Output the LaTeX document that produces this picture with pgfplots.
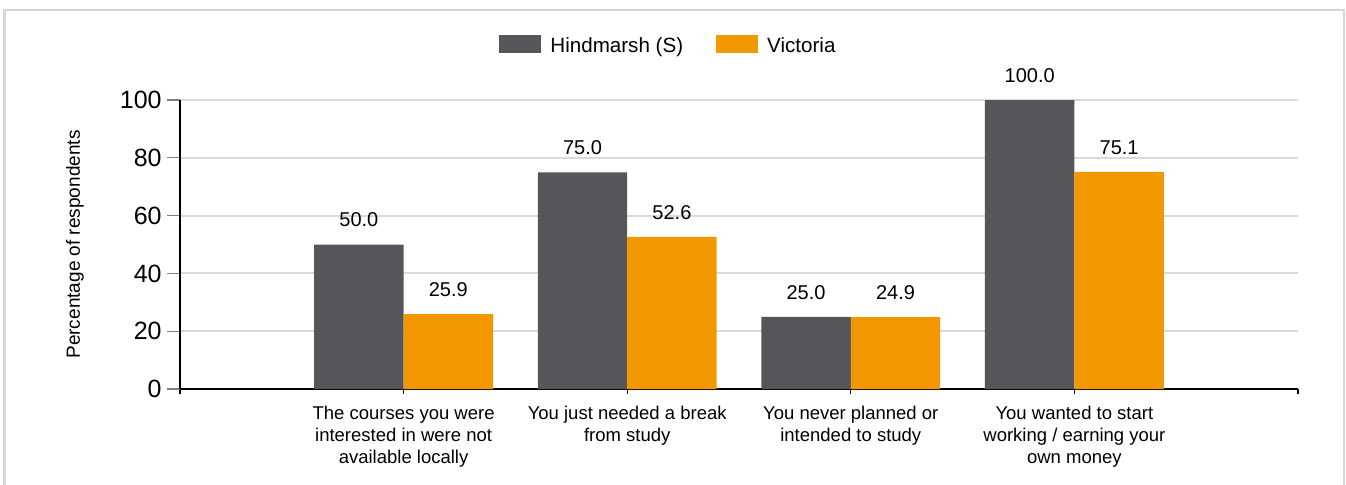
\documentclass[border=0pt]{standalone}
\usepackage{pgfplots}
\pgfplotsset{compat=1.18}
\usepackage{fontspec}
\setmainfont{Liberation Sans}
\definecolor{darkbar}{RGB}{84,86,90}
\definecolor{orangebar}{RGB}{243,151,0}
\definecolor{gridgray}{RGB}{217,217,217}
\definecolor{framegray}{RGB}{214,214,214}
\begin{document}
\begin{tikzpicture}
\useasboundingbox (0,0) rectangle (673pt,-242pt);
\draw[framegray, line width=1.3pt] (2.25pt,-243pt) -- (2.25pt,-5pt) -- (672pt,-5pt) -- (672pt,-243pt);
\begin{axis}[
  at={(90pt,-194.5pt)}, anchor=south west,
  scale only axis, width=559pt, height=144.5pt,
  xmin=0, xmax=5, ymin=0, ymax=100,
  axis lines*=left,
  x axis line style={line width=1.2pt, black},
  y axis line style={line width=0.9pt, black},
  ybar=0pt, bar width=0.4,
  xtick={0,1,2,3,4,5},
  xticklabels={,{The courses you were\\interested in were not\\available locally},{You just needed a break\\from study},{You never planned or\\intended to study},{You wanted to start\\working / earning your\\own money},},
  xticklabel style={font=\fontsize{9.25}{11}\selectfont, align=center, inner sep=0pt, yshift=-2pt},
  ytick={0,20,40,60,80,100},
  yticklabel style={font=\fontsize{12.5}{14}\selectfont, inner sep=0pt, xshift=-2.5pt},
  tick align=outside,
  major tick length=6.5pt,
  xtick style={/pgfplots/major tick length=2.5pt, black, line width=0.6pt},
  ytick style={gray, line width=0.6pt},
  ymajorgrids, grid style={gridgray, line width=1pt},
  /pgf/number format/assume math mode=true,
  ylabel={Percentage of respondents},
  ylabel style={font=\fontsize{9.5}{11}\selectfont, at={(axis description cs:-0.094,0.5)}, anchor=center},
  nodes near coords={\pgfmathprintnumber[fixed,fixed zerofill,precision=1]{\pgfplotspointmeta}},
  every node near coord/.append style={font=\fontsize{10}{12}\selectfont, inner sep=0pt, yshift=8.5pt, black},
  legend columns=2,
  legend style={draw=none, fill=none, at={(axis description cs:0.436,1.19)}, anchor=center,
    font=\fontsize{10.3}{12}\selectfont,
    nodes={inner sep=0pt},
    /tikz/every odd column/.append style={column sep=4.5pt},
    /tikz/every even column/.append style={column sep=16.5pt}},
  legend image code/.code={\fill[#1] (0pt,-3.3pt) rectangle (21pt,5.7pt);},
]
\addplot[fill=darkbar, draw=none] coordinates {(1,50.0) (2,75.0) (3,25.0) (4,100.0)};
\addplot[fill=orangebar, draw=none] coordinates {(1,25.9) (2,52.6) (3,24.9) (4,75.1)};
\legend{Hindmarsh (S),Victoria}
\end{axis}
\end{tikzpicture}
\end{document}
